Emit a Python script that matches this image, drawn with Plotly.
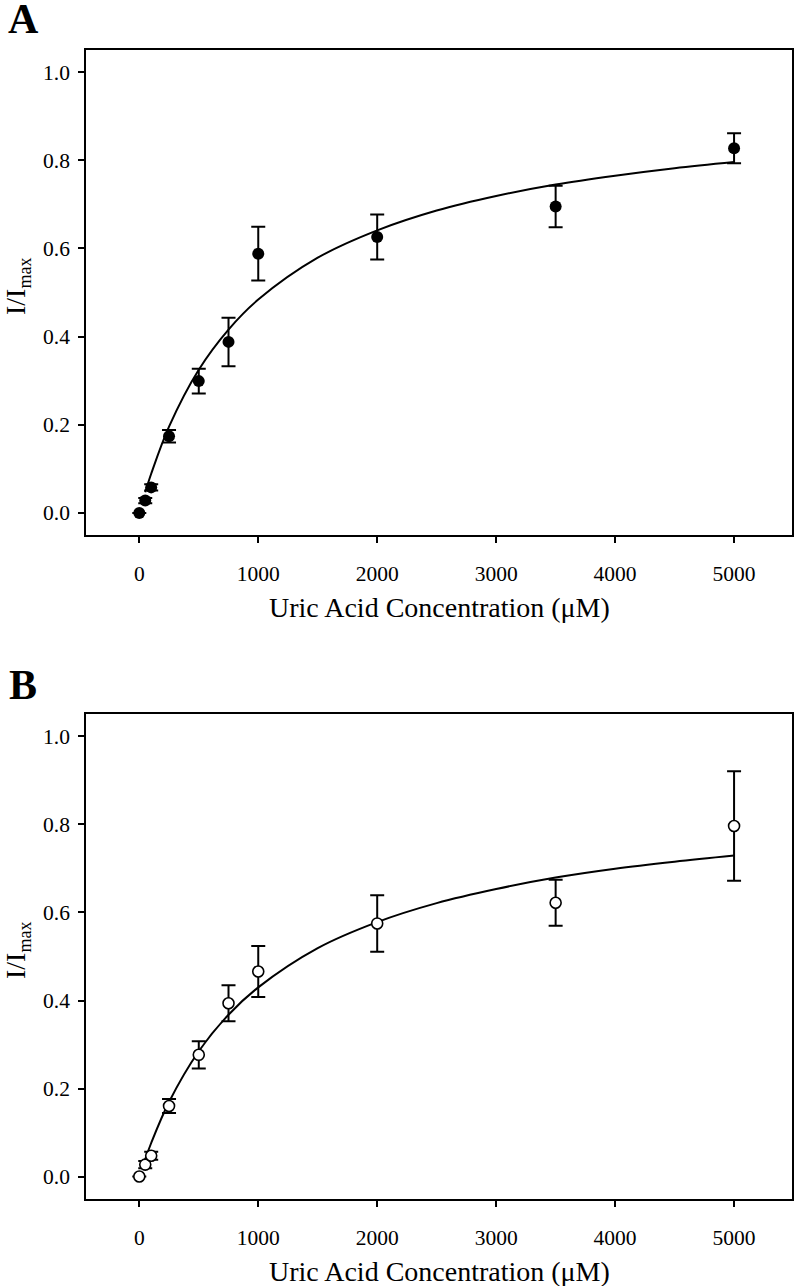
import plotly.graph_objects as go

# Uric acid dose-response, two panels (A: filled, B: open markers)
conc = [0, 50, 100, 250, 500, 750, 1000, 2000, 3500, 5000]

a_mean = [0.0, 0.028, 0.058, 0.174, 0.299, 0.388, 0.588, 0.626, 0.695, 0.827]
a_err = [0.0, 0.006, 0.007, 0.014, 0.028, 0.055, 0.061, 0.051, 0.047, 0.034]

b_mean = [0.001, 0.028, 0.048, 0.161, 0.277, 0.394, 0.466, 0.575, 0.622, 0.796]
b_err = [0.0, 0.008, 0.009, 0.016, 0.031, 0.041, 0.058, 0.064, 0.052, 0.124]

# fitted curves
fit_x = [50, 100, 250, 500, 750, 1000, 1500, 2000, 2500, 3000, 3500, 4000, 4500, 5000]
a_fit = [0.047, 0.089, 0.196, 0.325, 0.416, 0.484, 0.579, 0.641, 0.686, 0.719, 0.745, 0.765, 0.782, 0.796]
b_fit = [0.040, 0.077, 0.170, 0.285, 0.368, 0.430, 0.519, 0.578, 0.621, 0.653, 0.679, 0.699, 0.715, 0.729]

x_ticks = [0, 1000, 2000, 3000, 4000, 5000]
y_ticks = [0.0, 0.2, 0.4, 0.6, 0.8, 1.0]

W, H = 796, 1286
FONT = "Liberation Serif"
INK = "black"


def py(px):
    """pixel row from top -> paper y"""
    return 1 - px / H


fig = go.Figure()

for ax, mean, err, fit, filled in [
    ("", a_mean, a_err, a_fit, True),
    ("2", b_mean, b_err, b_fit, False),
]:
    fig.add_trace(
        go.Scatter(
            x=fit_x,
            y=fit,
            mode="lines",
            line=dict(color=INK, width=2, shape="spline"),
            xaxis="x" + ax,
            yaxis="y" + ax,
            showlegend=False,
            hoverinfo="skip",
        )
    )
    fig.add_trace(
        go.Scatter(
            x=conc,
            y=mean,
            mode="markers",
            marker=dict(
                size=12 if filled else 11,
                color=INK if filled else "white",
                line=dict(color=INK, width=0 if filled else 1.6),
            ),
            error_y=dict(type="data", array=err, visible=True, color=INK, thickness=2, width=7),
            xaxis="x" + ax,
            yaxis="y" + ax,
            showlegend=False,
        )
    )

axis_common = dict(
    showline=True,
    linecolor=INK,
    linewidth=1.6,
    mirror=True,
    ticks="outside",
    ticklen=6,
    tickwidth=1.6,
    tickcolor=INK,
    showgrid=False,
    zeroline=False,
    tickfont=dict(family=FONT, size=21.5, color=INK),
)

x_dom = [86 / W, 792 / W]
fig.update_layout(
    width=W,
    height=H,
    margin=dict(l=0, r=0, t=0, b=0),
    paper_bgcolor="white",
    plot_bgcolor="white",
    xaxis=dict(axis_common, domain=x_dom, range=[-448, 5487], tickvals=x_ticks,
               tickformat="d", anchor="y", ticklabelstandoff=12),
    yaxis=dict(axis_common, domain=[py(535), py(50)], range=[-0.05, 1.05], tickvals=y_ticks,
               tickformat=".1f", anchor="x", ticklabelstandoff=4),
    xaxis2=dict(axis_common, domain=x_dom, range=[-448, 5487], tickvals=x_ticks,
                tickformat="d", anchor="y2", ticklabelstandoff=12),
    yaxis2=dict(axis_common, domain=[py(1199), py(714)], range=[-0.05, 1.05], tickvals=y_ticks,
                tickformat=".1f", anchor="x2", ticklabelstandoff=4),
)

title_font = dict(family=FONT, size=28, color=INK)
ylab = "I/I<sub><span style='font-size:18px'>max</span></sub>"
for letter, top_px, ylab_px, xlab_px in [("A", 19, 287, 607), ("B", 685, 951, 1271)]:
    fig.add_annotation(
        text=f"<b>{letter}</b>", xref="paper", yref="paper", x=23 / W, y=py(top_px),
        xanchor="center", yanchor="middle", showarrow=False,
        font=dict(family=FONT, size=42, color=INK),
    )
    fig.add_annotation(
        text=ylab, xref="paper", yref="paper", x=17 / W, y=py(ylab_px), textangle=-90,
        xanchor="center", yanchor="middle", showarrow=False, font=title_font,
    )
    fig.add_annotation(
        text="Uric Acid Concentration (μM)", xref="paper", yref="paper", x=439 / W,
        y=py(xlab_px), xanchor="center", yanchor="middle", showarrow=False, font=title_font,
    )

# the page has a default 8px body margin; drop it so the figure fills the window
fig.write_html(
    "out.html",
    config={"displayModeBar": False},
    post_script="document.body.style.margin='0';",
)
